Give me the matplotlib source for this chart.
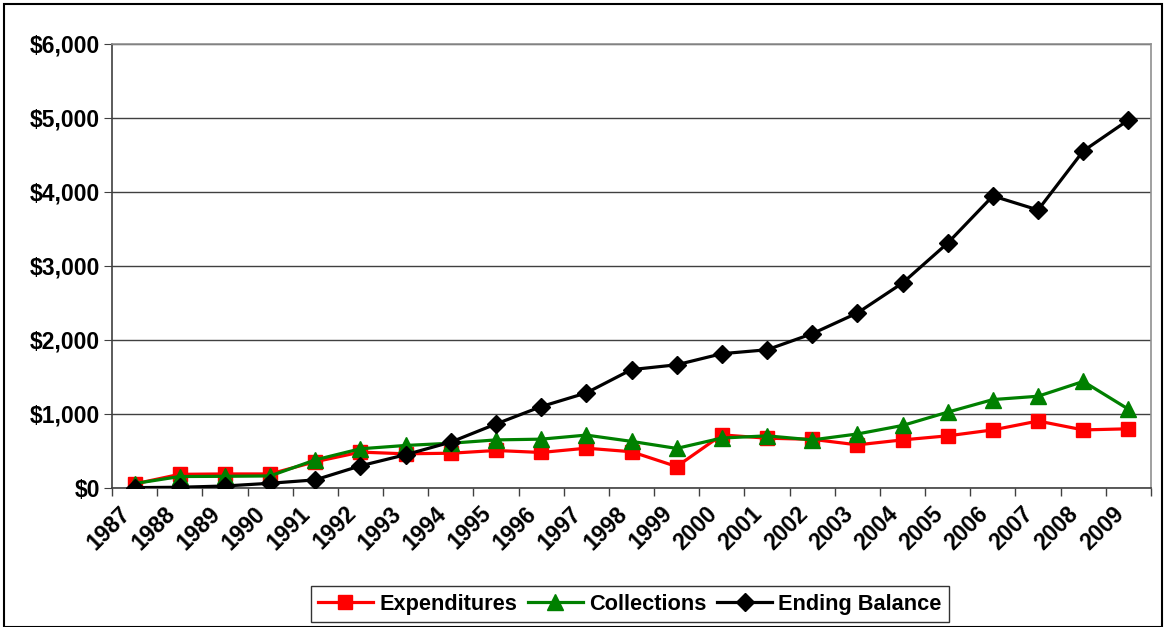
import matplotlib
matplotlib.use("Agg")
import matplotlib.pyplot as plt
from matplotlib.patches import Rectangle
from matplotlib.ticker import FuncFormatter, FixedLocator

plt.rcParams['font.family'] = ['Liberation Sans', 'DejaVu Sans']
plt.rcParams['font.weight'] = 'bold'

years = [str(y) for y in range(1987, 2010)]
expenditures = [55, 185, 190, 190, 355, 485, 462, 470, 507, 480, 538, 490,
                290, 718, 673, 658, 583, 650, 705, 785, 905, 785, 800]
collections = [60, 155, 158, 163, 380, 530, 575, 605, 650, 660, 715, 630,
               535, 675, 705, 650, 730, 845, 1025, 1195, 1240, 1440, 1065]
ending_balance = [5, 10, 27, 64, 110, 300, 450, 620, 865, 1100, 1285, 1600,
                  1665, 1815, 1868, 2085, 2365, 2770, 3310, 3946, 3757, 4554, 4973]
y_ticks = [0, 1000, 2000, 3000, 4000, 5000, 6000]

W, H = 1165, 627
fig = plt.figure(figsize=(W / 100, H / 100), dpi=100)
ax = fig.add_axes([112 / W, 1 - 488 / H, (1151 - 112) / W, (488 - 44) / H])

x = list(range(len(years)))
ax.plot(x, expenditures, color='#FF0000', lw=2.3, marker='s', ms=10.5,
        label='Expenditures', zorder=3)
ax.plot(x, collections, color='#008000', lw=2.3, marker='^', ms=11.5,
        label='Collections', zorder=4)
ax.plot(x, ending_balance, color='black', lw=2.3, marker='D', ms=9.5,
        label='Ending Balance', zorder=5)

ax.set_xlim(-0.5, len(years) - 0.5)
ax.set_ylim(0, 6000)
ax.yaxis.set_major_locator(FixedLocator(y_ticks))
ax.yaxis.set_major_formatter(FuncFormatter(lambda v, p: f"${v:,.0f}"))
ax.grid(axis='y', color='#404040', lw=1.0, zorder=1)
ax.set_axisbelow(True)

ax.set_xticks(x)
ax.set_xticklabels(years, rotation=45, ha='right', va='top',
                   rotation_mode='default')
ax.set_xticks([i - 0.5 for i in range(len(years) + 1)], minor=True)
ax.tick_params(axis='x', which='major', length=0, pad=10, labelsize=16.5)
ax.tick_params(axis='x', which='minor', length=6, direction='out',
               color='#404040', width=1)
ax.tick_params(axis='y', length=6, direction='out', color='#404040',
               labelsize=16.5, pad=2.5)
for lab in ax.get_xticklabels() + ax.get_yticklabels():
    lab.set_fontweight('bold')

ax.spines['left'].set_color('#404040')
ax.spines['bottom'].set_color('#404040')
ax.spines['top'].set_color('#909090')
ax.spines['right'].set_color('#909090')
for s in ax.spines.values():
    s.set_linewidth(1.2)

leg = fig.legend(loc='upper center', bbox_to_anchor=(630 / W, 1 - 586 / H),
                 ncol=3, frameon=True, fancybox=False, edgecolor='black',
                 prop={'weight': 'bold', 'size': 15.7}, handlelength=2.5,
                 columnspacing=0.5, handletextpad=0.3, borderpad=0.35,
                 borderaxespad=0)
leg.get_frame().set_linewidth(1.0)

fig.patches.append(Rectangle((4 / W, 0), (1162 - 4) / W, 1 - 4 / H,
                             transform=fig.transFigure, fill=False,
                             edgecolor='black', lw=1.5))

fig.savefig('out.png', dpi=100)
